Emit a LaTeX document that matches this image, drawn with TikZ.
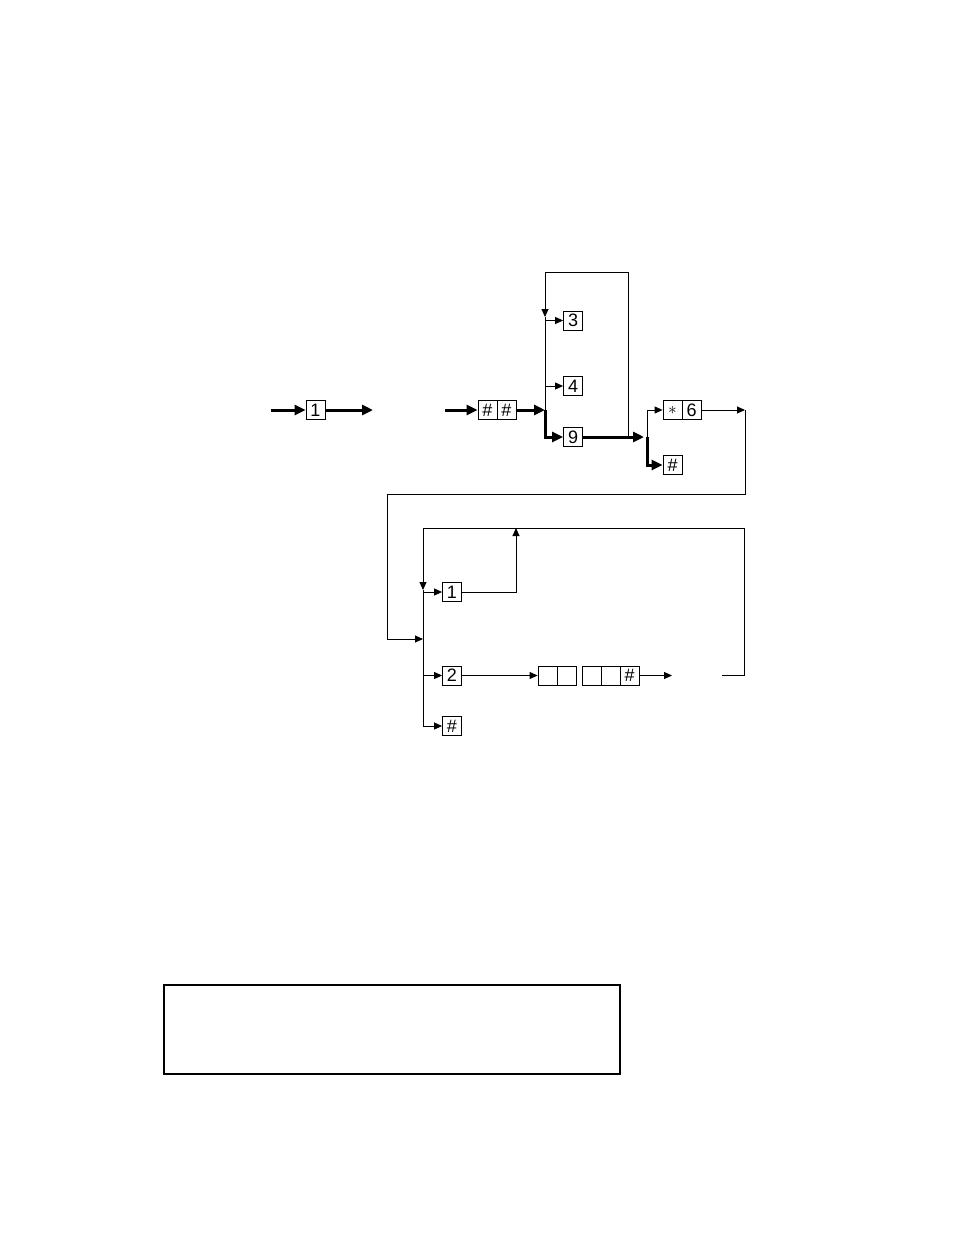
\documentclass[tikz,border=0pt]{standalone}
\usepackage{fontspec}
\setmainfont{Liberation Sans}
\usetikzlibrary{arrows.meta}
\begin{document}
\begin{tikzpicture}[x=1pt,y=-1pt,
  cell/.style={draw,line width=0.8pt,minimum width=19pt,minimum height=19pt,inner sep=0pt,font=\fontsize{18}{18}\selectfont},
  thin/.style={line width=0.9pt},
  thick/.style={line width=3pt},
  tarr/.style={thin,-{Triangle[length=8pt,width=7pt]}},
  karr/.style={thick,-{Triangle[length=11pt,width=10pt]}},
  frame/.style={draw,line width=2.5pt}]
\useasboundingbox (0,0) rectangle (954,1235);
% top row
\node[cell] (b1) at (315.5,410) {1};
\node[cell] (hh1) at (487.5,410) {\#};
\node[cell] (hh2) at (506.5,410) {\#};
\node[cell] (n3) at (573,320.5) {3};
\node[cell] (n4) at (573,386) {4};
\node[cell] (n9) at (573,437) {9};
\node[cell] (st) at (672.5,410) {$\ast$};
\node[cell] (s6) at (691.5,410) {6};
\node[cell] (hA) at (672.5,465) {\#};
% lower part
\node[cell] (m1) at (452,592) {1};
\node[cell] (m2) at (452,675.5) {2};
\node[cell] (mh) at (452,726) {\#};
\node[cell] (c1) at (547.5,675.5) {};
\node[cell] (c2) at (566.5,675.5) {};
\node[cell] (d1) at (591.5,675.5) {};
\node[cell] (d2) at (610.5,675.5) {};
\node[cell] (d3) at (629.5,675.5) {\#};
% coordinates
\coordinate (in1) at (271,410);
\coordinate (out1) at (373,410);
\coordinate (in2) at (445,410);
\coordinate (J1) at (545,410);
\coordinate (J1b) at (545,437);
\coordinate (J1t) at (545,272);
\coordinate (R1t) at (628,272);
\coordinate (R1b) at (628,437);
\coordinate (A3) at (545,317);
\coordinate (J2e) at (644,437);
\coordinate (J2) at (647,437);
\coordinate (J2t) at (647,410);
\coordinate (J2b) at (647,465);
\coordinate (E6) at (745,410);
\coordinate (E6b) at (745,494);
\coordinate (Lt) at (387,494);
\coordinate (Lb) at (387,639);
\coordinate (K) at (423,639);
\coordinate (Kt) at (423,528);
\coordinate (Ka) at (423,590);
\coordinate (Kb) at (423,726);
\coordinate (Rt) at (744,528);
\coordinate (Rb) at (744,675.5);
\coordinate (Rl) at (722,675.5);
\coordinate (U) at (516,592);
\coordinate (Ut) at (516,528);
\coordinate (Q) at (672,675.5);
% thick connectors
\draw[karr] (in1) -- (b1.west);
\draw[karr] (b1.east) -- (out1);
\draw[karr] (in2) -- (hh1.west);
\draw[karr] (hh2.east) -- (J1);
\draw[karr] (J1) -- (J1b) -- (n9.west);
\draw[karr] (n9.east) -- (J2e);
\draw[karr] (J2) -- (J2b) -- (hA.west);
% thin connectors
\draw[thin] (R1b) -- (R1t) -- (J1t);
\draw[tarr] (J1t) -- (A3);
\draw[thin] (A3) -- (J1);
\draw[tarr] (545,320.5) -- (n3.west);
\draw[tarr] (545,386) -- (n4.west);
\draw[tarr] (J2) -- (J2t) -- (st.west);
\draw[tarr] (s6.east) -- (E6);
\draw[tarr] (E6) -- (E6b) -- (Lt) -- (Lb) -- (K);
\draw[tarr] (Rl) -- (Rb) -- (Rt) -- (Kt) -- (Ka);
\draw[thin] (Ka) -- (Kb);
\draw[tarr] (423,592) -- (m1.west);
\draw[tarr] (423,675.5) -- (m2.west);
\draw[tarr] (Kb) -- (mh.west);
\draw[tarr] (m1.east) -- (U) -- (Ut);
\draw[tarr] (m2.east) -- (c1.west);
\draw[tarr] (d3.east) -- (Q);
% bottom frame
\node[frame,minimum width=456pt,minimum height=89pt,inner sep=0pt] (fr) at (392,1029.5) {};
\end{tikzpicture}
\end{document}
